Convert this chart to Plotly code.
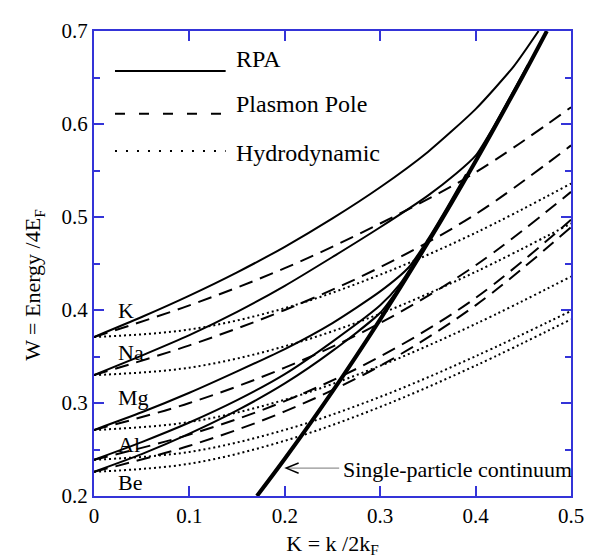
import plotly.graph_objects as go

# ---------------- data ----------------
metals = ["K", "Na", "Mg", "Al", "Be"]

# RPA (solid)
k_rpa_K = [0, 0.05, 0.1, 0.15, 0.2, 0.25, 0.3, 0.35, 0.4, 0.44, 0.466]
w_rpa_K = [0.371, 0.3925, 0.4155, 0.4405, 0.468, 0.4985, 0.532, 0.570, 0.616, 0.662, 0.700]
k_rpa_Na = [0, 0.05, 0.1, 0.15, 0.2, 0.25, 0.3, 0.35, 0.38, 0.40, 0.42, 0.44, 0.455]
w_rpa_Na = [0.330, 0.351, 0.373, 0.398, 0.426, 0.457, 0.489, 0.523, 0.547, 0.566, 0.599, 0.636, 0.664]
k_rpa_Mg = [0, 0.05, 0.1, 0.15, 0.2, 0.25, 0.3, 0.33, 0.35, 0.37, 0.39]
w_rpa_Mg = [0.271, 0.290, 0.311, 0.334, 0.358, 0.386, 0.420, 0.446, 0.476, 0.510, 0.546]
k_rpa_Al = [0, 0.05, 0.1, 0.15, 0.2, 0.25, 0.3, 0.32, 0.34, 0.355]
w_rpa_Al = [0.239, 0.258, 0.279, 0.303, 0.331, 0.366, 0.405, 0.427, 0.458, 0.482]
k_rpa_Be = [0, 0.05, 0.1, 0.15, 0.2, 0.25, 0.3, 0.32, 0.34]
w_rpa_Be = [0.226, 0.245, 0.267, 0.292, 0.321, 0.356, 0.397, 0.4245, 0.457]

# Plasmon pole (dashed) and hydrodynamic (dotted) on a common K grid
k_grid = [0, 0.1, 0.2, 0.3, 0.4, 0.5]
w_pp_K = [0.371, 0.405, 0.445, 0.493, 0.548, 0.618]
w_pp_Na = [0.330, 0.362, 0.400, 0.446, 0.503, 0.577]
w_pp_Mg = [0.271, 0.300, 0.338, 0.386, 0.448, 0.527]
w_pp_Al = [0.239, 0.266, 0.302, 0.350, 0.413, 0.497]
w_pp_Be = [0.226, 0.254, 0.291, 0.340, 0.405, 0.489]

w_hd_K = [0.371, 0.379, 0.402, 0.438, 0.483, 0.536]
w_hd_Na = [0.330, 0.338, 0.361, 0.396, 0.441, 0.493]
w_hd_Mg = [0.271, 0.2795, 0.3035, 0.340, 0.385, 0.436]
w_hd_Al = [0.239, 0.2474, 0.2711, 0.3066, 0.3503, 0.399]
w_hd_Be = [0.226, 0.2347, 0.2594, 0.2958, 0.3402, 0.390]

# single-particle continuum boundary
k_cont = [0.1708, 0.2, 0.25, 0.3, 0.35, 0.4, 0.45, 0.4747]
w_cont = [0.2, 0.24, 0.3125, 0.39, 0.4725, 0.56, 0.6525, 0.70]

# labels at the K = 0 end
label_w = [0.400, 0.354, 0.306, 0.2556, 0.2147]

x_ticks = [0, 0.1, 0.2, 0.3, 0.4, 0.5]
x_ticktext = ["0", "0.1", "0.2", "0.3", "0.4", "0.5"]
y_ticks = [0.2, 0.3, 0.4, 0.5, 0.6, 0.7]
y_ticktext = ["0.2", "0.3", "0.4", "0.5", "0.6", "0.7"]

legend_names = ["RPA", "Plasmon Pole", "Hydrodynamic"]

# ---------------- figure ----------------
FONT = "Liberation Serif, Times New Roman, serif"
AXC = "#3434d8"
fig = go.Figure()

rpa = [(k_rpa_K, w_rpa_K), (k_rpa_Na, w_rpa_Na), (k_rpa_Mg, w_rpa_Mg),
       (k_rpa_Al, w_rpa_Al), (k_rpa_Be, w_rpa_Be)]
pp = [w_pp_K, w_pp_Na, w_pp_Mg, w_pp_Al, w_pp_Be]
hd = [w_hd_K, w_hd_Na, w_hd_Mg, w_hd_Al, w_hd_Be]

for w in hd:
    fig.add_trace(go.Scatter(x=k_grid, y=w, mode="lines",
                             line=dict(color="black", width=2, dash="2px,3px", shape="spline"),
                             showlegend=False, hoverinfo="skip"))
for w in pp:
    fig.add_trace(go.Scatter(x=k_grid, y=w, mode="lines",
                             line=dict(color="black", width=2, dash="14px,8px", shape="spline"),
                             showlegend=False, hoverinfo="skip"))
for kk, w in rpa:
    fig.add_trace(go.Scatter(x=kk, y=w, mode="lines",
                             line=dict(color="black", width=2, shape="spline", smoothing=0.6),
                             showlegend=False, hoverinfo="skip"))
fig.add_trace(go.Scatter(x=k_cont, y=w_cont, mode="lines",
                         line=dict(color="black", width=4, shape="spline"),
                         showlegend=False, hoverinfo="skip"))

annotations = []
for name, wy in zip(metals, label_w):
    annotations.append(dict(x=0.023, y=wy, xref="x", yref="y", text=name, showarrow=False,
                            xanchor="left", yanchor="middle",
                            font=dict(family=FONT, size=22, color="black")))

# legend (drawn inside the plot, top-left)
legend_dash = ["solid", "10px,14px", "2px,9px"]
legend_y = [0.657, 0.611, 0.571]
legend_text_y = [0.6696, 0.621, 0.5687]
shapes = []
for nm, dsh, ly, ty in zip(legend_names, legend_dash, legend_y, legend_text_y):
    shapes.append(dict(type="line", xref="x", yref="y", x0=0.022, x1=0.138, y0=ly, y1=ly,
                       line=dict(color="black", width=2, dash=dsh)))
    annotations.append(dict(x=0.147, y=ty, xref="x", yref="y", text=nm, showarrow=False,
                            xanchor="left", yanchor="middle",
                            font=dict(family=FONT, size=24, color="black")))

# single-particle continuum pointer: grey shaft with an open arrow head
shapes.append(dict(type="line", xref="x", yref="y", x0=0.202, x1=0.257, y0=0.230, y1=0.230,
                   line=dict(color="#777777", width=1)))
shapes.append(dict(type="path", xref="x", yref="y",
                   path="M 0.2145,0.2355 L 0.2015,0.2300 L 0.2145,0.2245",
                   line=dict(color="black", width=1.5)))
annotations.append(dict(x=0.259, y=0.2283, xref="x", yref="y", text="Single-particle continuum",
                        showarrow=False, xanchor="left", yanchor="middle",
                        font=dict(family=FONT, size=22, color="black")))

# y-axis title placed exactly (slightly below the plot centre as in the reference)
annotations.append(dict(x=-0.125, y=0.455, xref="paper", yref="paper",
                        text="W = Energy /4E<sub>F</sub>", showarrow=False, textangle=-90,
                        xanchor="center", yanchor="middle",
                        font=dict(family=FONT, size=22, color="black")))

fig.update_layout(
    width=592, height=559,
    margin=dict(l=86, r=29, t=11, b=71),
    paper_bgcolor="white", plot_bgcolor="white",
    showlegend=False,
    annotations=annotations, shapes=shapes,
    xaxis=dict(range=[0, 0.5], tickvals=x_ticks, ticktext=x_ticktext,
               ticks="inside", ticklen=10, tickwidth=2, tickcolor=AXC,
               showline=True, linecolor=AXC, linewidth=2, mirror="ticks",
               showgrid=False, zeroline=False,
               title=dict(text="K = k /2k<sub>F</sub>", standoff=8,
                          font=dict(family=FONT, size=22, color="black")),
               tickfont=dict(family=FONT, size=21, color="black")),
    yaxis=dict(range=[0.2, 0.7], tickvals=y_ticks, ticktext=y_ticktext,
               ticks="inside", ticklen=10, tickwidth=2, tickcolor=AXC,
               minor=dict(tickvals=[0.25, 0.35, 0.45, 0.55, 0.65], ticks="inside",
                          ticklen=6, tickwidth=2, tickcolor=AXC),
               showline=True, linecolor=AXC, linewidth=2, mirror="ticks",
               showgrid=False, zeroline=False,
               tickfont=dict(family=FONT, size=21, color="black")),
)

fig.write_html("out.html")
